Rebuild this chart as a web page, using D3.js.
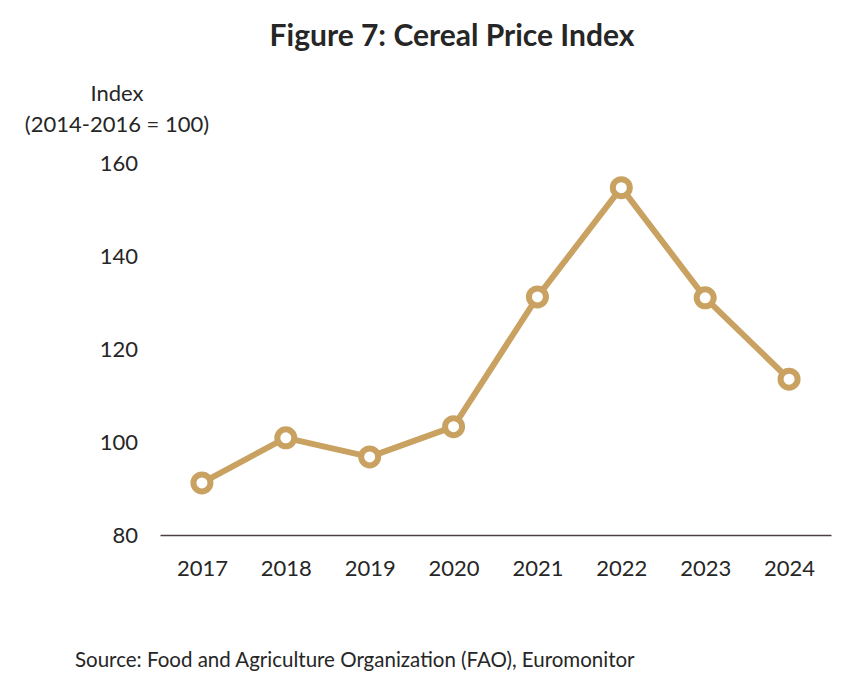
<html>
<head>
<style>
  body { margin: 0; background: #fff; }
  text { font-family: Lato, "Open Sans", sans-serif; fill: #262626; }
</style>
</head>
<body>
<svg width="855" height="687" class="chart"></svg>
<script src="https://d3js.org/d3.v7.min.js"></script>
<script>
    years = ["2017", "2018", "2019", "2020", "2021", "2022", "2023", "2024"]
    cereal = [91.2, 100.9, 96.8, 103.3, 131.2, 154.7, 131.0, 113.5]
    yTicks = [80, 100, 120, 140, 160]
    gold = "#C9A262"

    var svg = d3.select(".chart")
    var x = d3.scalePoint().domain(years).range([160, 831]).padding(0.5)
    var y = d3.scaleLinear().domain([80, 160]).range([535, 163])

    svg.append("text").attr("x", 452).attr("y", 46).attr("text-anchor", "middle")
        .style("font-size", "30px").style("font-weight", "bold").text("Figure 7: Cereal Price Index")

    svg.append("text").attr("x", 117).attr("y", 101).attr("text-anchor", "middle")
        .style("font-size", "22px").text("Index")
    svg.append("text").attr("x", 117).attr("y", 132).attr("text-anchor", "middle")
        .style("font-size", "22px").text("(2014-2016 = 100)")

    // y axis: labels only
    var ya = svg.append("g").attr("transform", "translate(138,0)")
        .call(d3.axisLeft(y).tickValues(yTicks).tickSize(0).tickPadding(0))
    ya.select(".domain").remove()
    ya.selectAll("text").style("font-size", "22px").attr("font-family", null)

    // x axis
    var xa = svg.append("g").attr("transform", "translate(0,535)")
        .call(d3.axisBottom(x).tickSize(0).tickPadding(25).tickSizeOuter(0))
    xa.select(".domain").attr("stroke", "#4a4040").attr("stroke-width", 1.3)
    xa.selectAll("text").style("font-size", "22px").attr("font-family", null)

    var line = d3.line().x(function(d, i){ return x(years[i]) }).y(function(d){ return y(d) })
    svg.append("path").datum(cereal).attr("d", line).attr("fill", "none")
        .attr("stroke", gold).attr("stroke-width", 6).attr("stroke-linejoin", "round")

    svg.selectAll("circle.pt").data(cereal).enter().append("circle").attr("class", "pt")
        .attr("cx", function(d, i){ return x(years[i]) }).attr("cy", function(d){ return y(d) })
        .attr("r", 8.5).attr("fill", "#fff").attr("stroke", gold).attr("stroke-width", 6)

    svg.append("text").attr("x", 75).attr("y", 667).style("font-size", "20.5px")
        .text("Source: Food and Agriculture Organization (FAO), Euromonitor")
</script>
</body>
</html>
